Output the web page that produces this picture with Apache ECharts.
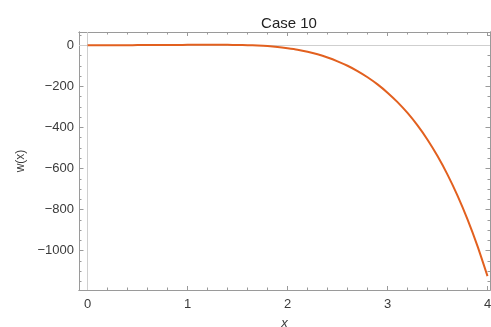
<!DOCTYPE html>
<html><head><meta charset="utf-8">
<script src="https://cdn.jsdelivr.net/npm/echarts@6/dist/echarts.min.js"></script>
<style>html,body{margin:0;padding:0;background:#fff}#c{width:491px;height:327px}</style>
</head><body><div id="c"></div>
<script>
const xValues = [0,0.1,0.2,0.3,0.4,0.5,0.6,0.7,0.8,0.9,1.0,1.1,1.2,1.3,1.4,1.5,1.6,1.7,1.8,1.9,2.0,2.1,2.2,2.3,2.4,2.5,2.6,2.7,2.8,2.9,3.0,3.1,3.2,3.3,3.4,3.5,3.6,3.7,3.8,3.9,4.0];
const wValues = [0,0.1,0.3,0.5,0.8,1.1,1.4,1.7,2.0,2.2,2.3,2.4,2.4,2.4,2.3,1.9,1.0,-0.7,-3.4,-7.7,-13.8,-21,-31,-43.6,-59.2,-77.8,-99.5,-125.5,-155.5,-190.3,-230.5,-276.7,-329.5,-390.3,-459.9,-539.5,-629.8,-732.1,-847.9,-977.9,-1124.4];
const xMajorTicks = [0,1,2,3,4];
const xMinorTicks = [0.2,0.4,0.6,0.8,1.2,1.4,1.6,1.8,2.2,2.4,2.6,2.8,3.2,3.4,3.6,3.8];
const yMajorTicks = [0,-200,-400,-600,-800,-1000];
const yMinorTicks = [50,-50,-100,-150,-250,-300,-350,-450,-500,-550,-650,-700,-750,-850,-900,-950,-1050,-1100,-1150];
const titleText = 'Case 10';
const xName = 'x';
const yName = 'w(x)';

const frameColor = '#9a9a9a';
const labelColor = '#3a3a3a';
const XMIN = -0.086, XMAX = 4.025, YMIN = -1192, YMAX = 65;
const fmt = v => String(v).replace('-', '\u2212');

function xAxisDef(pos, ticks, len, labels, name) {
  return {
    type: 'value', position: pos, min: XMIN, max: XMAX,
    name: name || '', nameLocation: 'middle', nameGap: 27,
    nameTextStyle: {fontFamily: 'Liberation Sans', fontSize: 13, fontStyle: 'italic', color: labelColor},
    axisLine: {show: true, onZero: false, lineStyle: {color: frameColor, width: 1}},
    axisTick: {show: true, inside: true, length: len, customValues: ticks, lineStyle: {color: frameColor}},
    axisLabel: labels ? {show: true, customValues: ticks, formatter: fmt, margin: 8, fontFamily: 'Liberation Sans', fontSize: 13, color: labelColor} : {show: false},
    splitLine: {show: false}, minorTick: {show: false}
  };
}
function yAxisDef(pos, ticks, len, labels, name) {
  return {
    type: 'value', position: pos, min: YMIN, max: YMAX,
    name: name || '', nameLocation: 'middle', nameGap: 48, nameRotate: 90,
    nameTextStyle: {fontFamily: 'Liberation Sans', fontSize: 12, color: labelColor},
    axisLine: {show: true, onZero: false, lineStyle: {color: frameColor, width: 1}},
    axisTick: {show: true, inside: true, length: len, customValues: ticks, lineStyle: {color: frameColor}},
    axisLabel: labels ? {show: true, customValues: ticks, formatter: fmt, margin: 5, fontFamily: 'Liberation Sans', fontSize: 13, color: labelColor} : {show: false},
    splitLine: {show: false}, minorTick: {show: false}
  };
}

const chart = echarts.init(document.getElementById('c'), null, {renderer: 'canvas'});
chart.setOption({
  animation: false,
  backgroundColor: '#fff',
  title: {text: titleText, left: 284, top: 11, textAlign: 'center',
    textStyle: {fontFamily: 'Liberation Sans', fontSize: 15, fontWeight: 'normal', color: '#222'}},
  grid: {left: 79, right: 1, top: 32, bottom: 37, containLabel: false, outerBoundsMode: 'none'},
  xAxis: [
    xAxisDef('bottom', xMajorTicks, 4, true, xName),
    xAxisDef('bottom', xMinorTicks, 2.5, false),
    xAxisDef('top', xMajorTicks, 4, false),
    xAxisDef('top', xMinorTicks, 2.5, false)
  ],
  yAxis: [
    yAxisDef('left', yMajorTicks, 4.5, true, yName),
    yAxisDef('left', yMinorTicks, 2.5, false),
    yAxisDef('right', yMajorTicks, 4.5, false),
    yAxisDef('right', yMinorTicks, 2.5, false)
  ],
  series: [{
    type: 'line', xAxisIndex: 0, yAxisIndex: 0,
    data: xValues.map((x, i) => [x, wValues[i]]),
    showSymbol: false, smooth: 0.2, clip: true,
    lineStyle: {color: '#E2601F', width: 2},
    markLine: {
      silent: true, symbol: 'none', label: {show: false},
      lineStyle: {color: '#cfcfcf', width: 1, type: 'solid'},
      data: [{yAxis: 0}, {xAxis: 0}]
    },
    z: 5
  }]
});
</script></body></html>
